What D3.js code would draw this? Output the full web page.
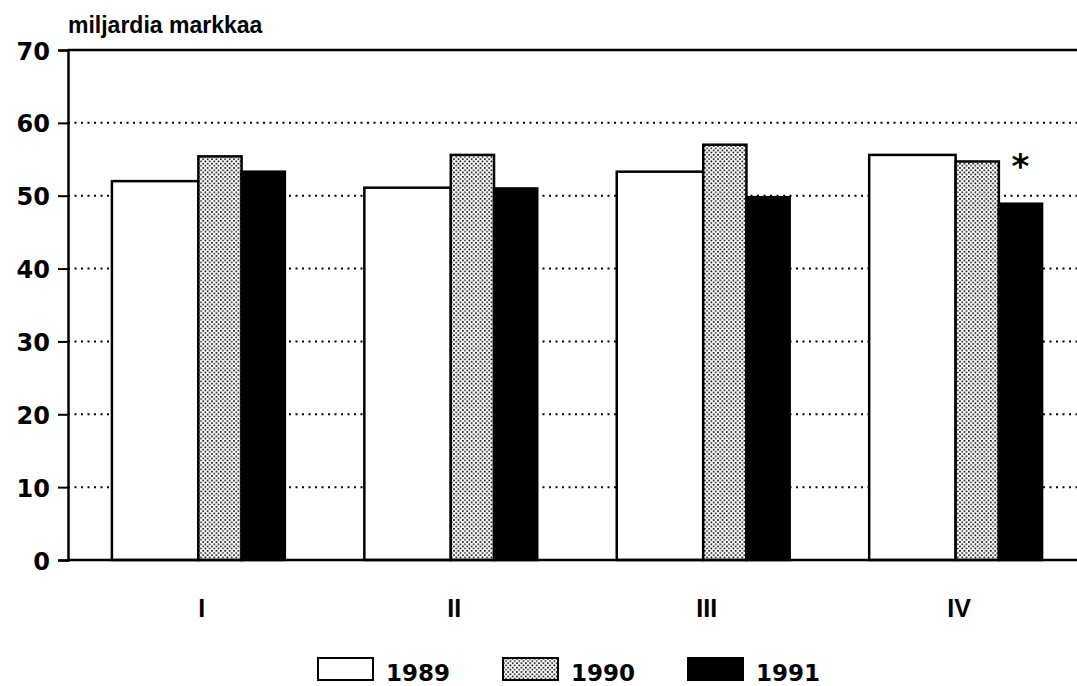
<!DOCTYPE html>
<html>
<head>
<meta charset="utf-8">
<script src="https://cdn.jsdelivr.net/npm/d3@7.9.0/dist/d3.min.js"></script>
<style>
  html, body { margin: 0; padding: 0; background: #fff; }
  svg { display: block; }
  .num { font-family: "DejaVu Sans", sans-serif; font-weight: bold; }
  .lbl { font-family: "Liberation Sans", Arial, sans-serif; font-weight: bold; }
</style>
</head>
<body>
<svg id="chart" width="1077" height="686"></svg>
<script>
const quarters = ["I", "II", "III", "IV"];
const years = ["1989", "1990", "1991"];
const v1989 = [52.0, 51.1, 53.3, 55.6];
const v1990 = [55.4, 55.6, 57.0, 54.7];
const v1991 = [53.3, 51.0, 49.8, 48.9];
const yTicks = [0, 10, 20, 30, 40, 50, 60, 70];
const yTitle = "miljardia markkaa";
const footnoteMark = "*";

const W = 1077, H = 686;
const svg = d3.select("#chart");

// fills for each year: white, stipple, black
const defs = svg.append("defs");
const pat = defs.append("pattern")
  .attr("id", "stipple")
  .attr("patternUnits", "userSpaceOnUse")
  .attr("width", 4.4).attr("height", 4.4);
pat.append("rect").attr("width", 4.4).attr("height", 4.4).attr("fill", "#fff");
pat.append("rect").attr("x", 0).attr("y", 0).attr("width", 1.6).attr("height", 1.6).attr("fill", "#000");
pat.append("rect").attr("x", 2.2).attr("y", 2.2).attr("width", 1.6).attr("height", 1.6).attr("fill", "#000");

const fills = d3.scaleOrdinal().domain(years).range(["#fff", "url(#stipple)", "#000"]);
const seriesByYear = { "1989": v1989, "1990": v1990, "1991": v1991 };

const axisX = 68;
const y = d3.scaleLinear().domain([0, 70]).range([560, 50]);
const x0 = d3.scaleBand().domain(quarters).range([axisX, 1086])
  .paddingInner(0.315).paddingOuter(0.174);

// share of the group width for each year's bar
const share = [0.5, 0.25, 0.25];
const offsets = d3.cumsum([0].concat(share.slice(0, -1)));

// dotted grid lines
svg.append("g").selectAll("line")
  .data(yTicks.filter(t => t > 0 && t < 70))
  .join("line")
  .attr("x1", axisX).attr("x2", W)
  .attr("y1", d => y(d)).attr("y2", d => y(d))
  .attr("stroke", "#000").attr("stroke-width", 2)
  .attr("stroke-dasharray", "2,4.5");

// bars
const bw = x0.bandwidth();
quarters.forEach((q, qi) => {
  years.forEach((yr, yi) => {
    const v = seriesByYear[yr][qi];
    svg.append("rect")
      .attr("x", x0(q) + offsets[yi] * bw)
      .attr("y", y(v))
      .attr("width", share[yi] * bw)
      .attr("height", y(0) - y(v))
      .attr("fill", fills(yr))
      .attr("stroke", "#000")
      .attr("stroke-width", 2.5);
  });
});

// top and bottom frame lines
svg.append("line").attr("x1", axisX).attr("x2", W).attr("y1", y(70)).attr("y2", y(70))
  .attr("stroke", "#000").attr("stroke-width", 2.5);
svg.append("line").attr("x1", axisX).attr("x2", W).attr("y1", y(0)).attr("y2", y(0))
  .attr("stroke", "#000").attr("stroke-width", 2.5);

// y axis
const yAxis = d3.axisLeft(y).tickValues(yTicks).tickSize(10).tickPadding(8).tickFormat(d3.format("d"));
const gy = svg.append("g").attr("transform", `translate(${axisX},0)`).call(yAxis);
gy.select(".domain").attr("stroke-width", 2.5);
gy.selectAll(".tick line").attr("stroke-width", 2);
gy.selectAll(".tick text").attr("class", "num").attr("font-size", 24).attr("fill", "#000")
  .attr("dy", "0.38em");
gy.attr("font-family", null);

// x labels
svg.append("g").selectAll("text")
  .data(quarters)
  .join("text")
  .attr("class", "lbl")
  .attr("x", d => x0(d) + bw * 0.52)
  .attr("y", 617)
  .attr("text-anchor", "middle")
  .attr("font-size", 25)
  .text(d => d);

// axis title
svg.append("text").attr("class", "lbl")
  .attr("x", axisX).attr("y", 33)
  .attr("font-size", 23)
  .text(yTitle);

// footnote mark over last 1991 bar
const lastQ = quarters[quarters.length - 1];
svg.append("text").attr("class", "num")
  .attr("x", x0(lastQ) + (offsets[2] + share[2] / 2) * bw)
  .attr("y", y(v1991[v1991.length - 1]) - 26)
  .attr("text-anchor", "middle")
  .attr("font-size", 34)
  .text(footnoteMark);

// legend
const legendX = [318, 503, 688];
const leg = svg.append("g").selectAll("g")
  .data(years)
  .join("g")
  .attr("transform", (d, i) => `translate(${legendX[i]},658)`);
leg.append("rect")
  .attr("width", 55).attr("height", 22)
  .attr("fill", d => fills(d))
  .attr("stroke", "#000").attr("stroke-width", 2);
leg.append("text").attr("class", "num")
  .attr("x", 68).attr("y", 23)
  .attr("font-size", 23)
  .text(d => d);
</script>
</body>
</html>
